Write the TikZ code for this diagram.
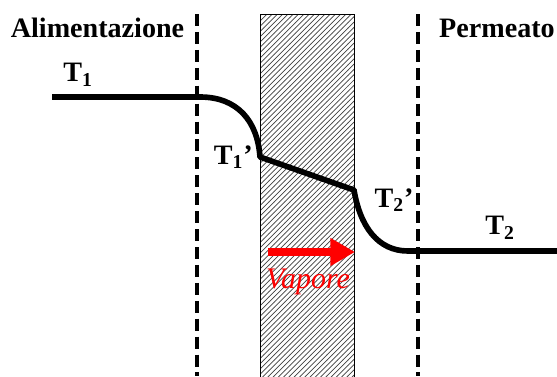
\documentclass[tikz,border=0pt]{standalone}
\usepackage{fontspec}
\setmainfont{Liberation Serif}
\usepackage{tikz}
\usetikzlibrary{arrows.meta, patterns, positioning}
\tikzset{
	bigtext/.style={font=\fontsize{16}{18}\selectfont\bfseries}
}
\tikzset{
	wall/.style={black, line width=2.2pt, dash pattern=on 6.8pt off 3.4pt}
}
\tikzset{
	profile/.style={black, line width=3.2pt, line join=round}
}
\begin{document}
\begin{tikzpicture}
      \useasboundingbox (0,0) rectangle (11.14,7.52);
      % membrane
      \draw[thin, pattern=north east lines, pattern color=black!75] (5.2,-0.1) rectangle (7.08,7.24);
      % boundary layers
      \draw[wall] (3.94,7.24) -- (3.94,0);
      \draw[wall] (8.36,7.24) -- (8.36,0);
      % temperature profile
      \draw[profile] (1.04,5.58) -- (4.0,5.58)
            .. controls (4.75,5.58) and (5.15,5.1) .. (5.2,4.38) coordinate (mi)
            -- (7.08,3.72) coordinate (mo)
            .. controls (7.2,3.0) and (7.55,2.5) .. (8.16,2.5)
            -- (11.14,2.5);
      % labels
      \node[bigtext] (alim) at (1.95,6.96) {Alimentazione};
      \node[bigtext] (perm) at (9.94,6.96) {Permeato};
      \node[bigtext] (tuno) at (1.56,6.02) {T\textsubscript{1}};
      \node[bigtext, left=0.02 of mi] (tunop) {T\textsubscript{1}’};
      \node[bigtext] (tduep) at (7.88,3.52) {T\textsubscript{2}’};
      \node[bigtext] (tdue) at (10.0,2.96) {T\textsubscript{2}};
      % vapour flux
      \coordinate (vs) at (5.36,2.48);
      \coordinate (ve) at (7.1,2.48);
      \draw[red, line width=5pt, -{Triangle[length=14pt, width=15pt]}] (vs) -- (ve);
      \node[red, font=\fontsize{17}{19}\selectfont\itshape] (vap) at (6.16,1.88) {Vapore};
    \end{tikzpicture}
\end{document}
